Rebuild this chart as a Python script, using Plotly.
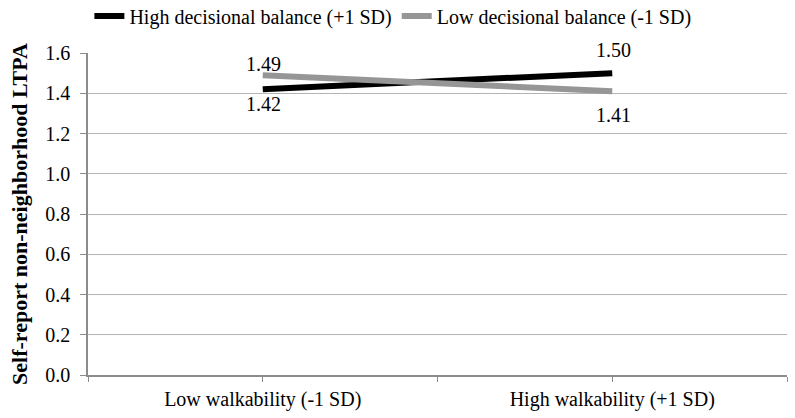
import plotly.graph_objects as go

categories = ["Low walkability (-1 SD)", "High walkability (+1 SD)"]
high_db = [1.42, 1.50]
low_db = [1.49, 1.41]
series_names = ["High decisional balance (+1 SD)", "Low decisional balance (-1 SD)"]
y_ticks = [0.0, 0.2, 0.4, 0.6, 0.8, 1.0, 1.2, 1.4, 1.6]

# label offsets (px) relative to each point, as placed in the original chart
high_label_shift = [-14.5, 23]
low_label_shift = [11.5, -24]

xpos = list(range(len(categories)))
font_family = "Liberation Serif"

fig = go.Figure()
fig.add_trace(go.Scatter(
    x=xpos, y=high_db, mode="lines", name=series_names[0],
    line=dict(color="#000000", width=6),
))
fig.add_trace(go.Scatter(
    x=xpos, y=low_db, mode="lines", name=series_names[1],
    line=dict(color="#969696", width=6),
))

for vals, shifts in ((high_db, high_label_shift), (low_db, low_label_shift)):
    for x, v, s in zip(xpos, vals, shifts):
        fig.add_annotation(x=x, y=v, text=f"{v:.2f}", showarrow=False, yshift=s,
                           xshift=1, font=dict(family=font_family, size=20, color="#000000"))

tickvals = []
ticktext = []
for i, c in enumerate(categories):
    tickvals += [i - 0.5, i]
    ticktext += ["", c]
tickvals.append(len(categories) - 0.5)
ticktext.append("")

fig.update_layout(
    width=795, height=418,
    margin=dict(l=88, r=8, t=53, b=43, autoexpand=False),
    plot_bgcolor="white", paper_bgcolor="white",
    font=dict(family=font_family, size=20, color="#000000"),
    showlegend=True,
    legend=dict(orientation="h", x=0.002, xanchor="left", y=1.115, yanchor="middle",
                yref="paper", font=dict(size=20), itemwidth=30,
                tracegroupgap=0, bgcolor="rgba(0,0,0,0)"),
    xaxis=dict(range=[-0.5, len(categories) - 0.5], tickvals=tickvals, ticktext=ticktext,
               showgrid=False, zeroline=False, showline=True, linecolor="#8c8c8c", linewidth=1.5,
               ticks="outside", ticklen=5, tickcolor="#8c8c8c", tickfont=dict(size=20),
               automargin=False),
    yaxis=dict(range=[0, 1.6], tickvals=y_ticks, ticktext=[f"{v:.1f}" for v in y_ticks],
               showgrid=True, gridcolor="#b4b4b4", gridwidth=1, zeroline=False,
               showline=True, linecolor="#8c8c8c", linewidth=1.5,
               ticks="outside", ticklen=6, tickcolor="#8c8c8c", tickfont=dict(size=20),
               ticklabelstandoff=6, automargin=False,
               title=dict(text="<b>Self-report non-neighborhood LTPA</b>", font=dict(size=22), standoff=12)),
)

fig.write_html("out.html", config={"displayModeBar": False},
               post_script="document.body.style.margin='0';")
